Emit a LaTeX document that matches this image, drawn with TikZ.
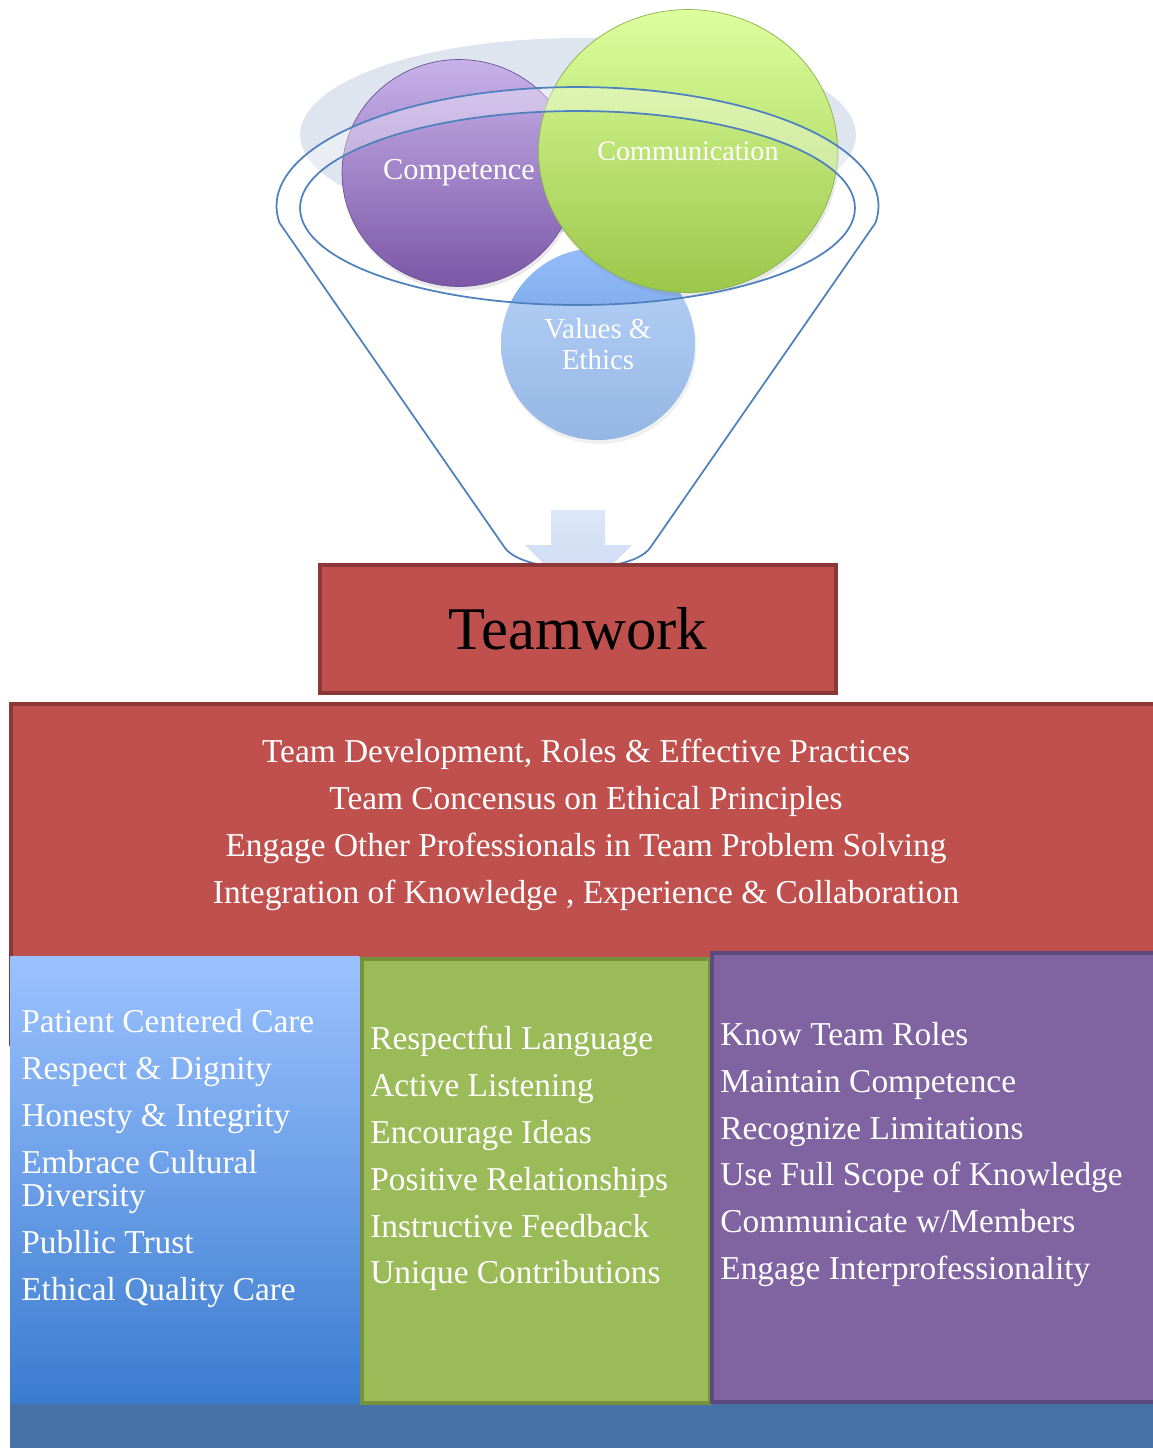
\documentclass[tikz,border=0pt]{standalone}
\usepackage{fontspec}
\setmainfont{Liberation Serif}
\usetikzlibrary{shapes.geometric,shadows}
\definecolor{teamred}{HTML}{C0504D}
\definecolor{teamredline}{HTML}{8C3836}
\definecolor{funnelblue}{HTML}{4F81BD}
\definecolor{backgray}{HTML}{DFE5EF}
\definecolor{carelight}{HTML}{9BC2FF}
\definecolor{caredark}{HTML}{3B7CCF}
\definecolor{talkgreen}{HTML}{9BBB59}
\definecolor{talkline}{HTML}{76923C}
\definecolor{rolepurple}{HTML}{8064A2}
\definecolor{roleline}{HTML}{5C4A7E}
\definecolor{basebar}{HTML}{4672A8}
\definecolor{competencetop}{HTML}{C7B1EA}
\definecolor{competencebottom}{HTML}{7B57A6}
\definecolor{competenceline}{HTML}{6F5298}
\definecolor{communicationtop}{HTML}{DDFF9E}
\definecolor{communicationbottom}{HTML}{9BC74A}
\definecolor{communicationline}{HTML}{8DB14B}
\definecolor{valuestop}{HTML}{93BCF8}
\definecolor{valuesbottom}{HTML}{5C90D6}
\definecolor{arrowtop}{HTML}{DCE7F9}
\definecolor{arrowbottom}{HTML}{C9D7EF}

\begin{document}
\begin{tikzpicture}[x=0.02cm, y=-0.02cm,
  bubble/.style={ellipse, text=white, align=center, inner sep=0pt,
    font=\fontsize{16.5}{17.6}\selectfont,
    drop shadow={opacity=0.18, shadow xshift=0.03cm, shadow yshift=-0.08cm}},
  listtext/.style={text=white, inner sep=0pt, font=\fontsize{19}{26.65}\selectfont}]
  \useasboundingbox (0,0) rectangle (1153,1448);

  \fill[backgray] (578,135) ellipse [x radius=5.56cm, y radius=1.94cm];

  \node[bubble, minimum width=3.88cm, minimum height=3.84cm,
    top color=valuestop, bottom color=valuesbottom] (values) at (598,344) {Values \&\\Ethics};
  \node[bubble, draw=competenceline, minimum width=4.68cm, minimum height=4.54cm,
    top color=competencetop, bottom color=competencebottom,
    font=\fontsize{17.3}{20}\selectfont] (competence) at (459,173) {Competence};
  \node[bubble, draw=communicationline, minimum width=5.98cm, minimum height=5.66cm,
    top color=communicationtop, bottom color=communicationbottom,
    font=\fontsize{16}{20}\selectfont] (communication) at (688,151) {Communication};

  % funnel
  \fill[white, fill opacity=0.35, even odd rule]
    plot[domain=171.8:368.2, samples=80] ({577.5+301*cos(\x)},{206+119*sin(\x)})
    -- (650,548) .. controls (630,575) and (525,575) .. (505,548) -- cycle
    (577.5,208) ellipse [x radius=5.55cm, y radius=1.94cm];
  \draw[funnelblue, line width=1pt]
    plot[domain=171.8:368.2, samples=80] ({577.5+301*cos(\x)},{206+119*sin(\x)})
    -- (650,548) .. controls (630,575) and (525,575) .. (505,548) -- cycle;
  \draw[funnelblue, line width=1pt] (577.5,208) ellipse [x radius=5.55cm, y radius=1.94cm];

  \path[top color=arrowtop, bottom color=arrowbottom]
    (551,510) -- (605,510) -- (605,545) -- (632,545) -- (578,598) -- (525,545) -- (551,545) -- cycle;

  \node[draw=teamredline, line width=0.08cm, fill=teamred, minimum width=10.32cm, minimum height=2.56cm,
    font=\fontsize{34.5}{40}\selectfont] (teamwork) at (578,629) {Teamwork};

  \node[draw=teamredline, line width=0.08cm, fill=teamred, anchor=north west,
    minimum width=23.2cm, minimum height=6.8cm] (rolebox) at (9,702) {};
  \node[listtext, align=center] (teamgoals) at (586,825)
    {Team Development, Roles \& Effective Practices\\
     Team Concensus on Ethical Principles\\
     Engage Other Professionals in Team Problem Solving\\
     Integration of Knowledge , Experience \& Collaboration};

  \node[fill=basebar, anchor=north west, inner sep=0pt, minimum width=22.86cm, minimum height=0.9cm] (bar) at (10,1403) {};
  \node[anchor=north west, inner sep=0pt, minimum width=6.98cm, minimum height=8.94cm,
    top color=carelight, bottom color=caredark] (carecol) at (10,956) {};
  \node[draw=talkline, line width=0.08cm, fill=talkgreen, anchor=north west,
    minimum width=6.98cm, minimum height=8.88cm] (talkcol) at (359.5,957) {};
  \node[draw=roleline, line width=0.08cm, fill=rolepurple, anchor=north west,
    minimum width=10cm, minimum height=8.98cm] (rolecol) at (710,951) {};

  \node[listtext, align=left, anchor=north west] (carelist) at (21,1009)
    {Patient Centered Care\\ Respect \& Dignity\\ Honesty \& Integrity\\
     Embrace Cultural\\[-7.5pt] Diversity\\ Publlic Trust\\ Ethical Quality Care};
  \node[listtext, align=left, anchor=north west] (talklist) at (370,1026)
    {Respectful Language\\ Active Listening\\ Encourage Ideas\\
     Positive Relationships\\ Instructive Feedback\\ Unique Contributions};
  \node[listtext, align=left, anchor=north west] (rolelist) at (720,1022)
    {Know Team Roles\\ Maintain Competence\\ Recognize Limitations\\
     Use Full Scope of Knowledge\\ Communicate w/Members\\ Engage Interprofessionality};
\end{tikzpicture}
\end{document}
